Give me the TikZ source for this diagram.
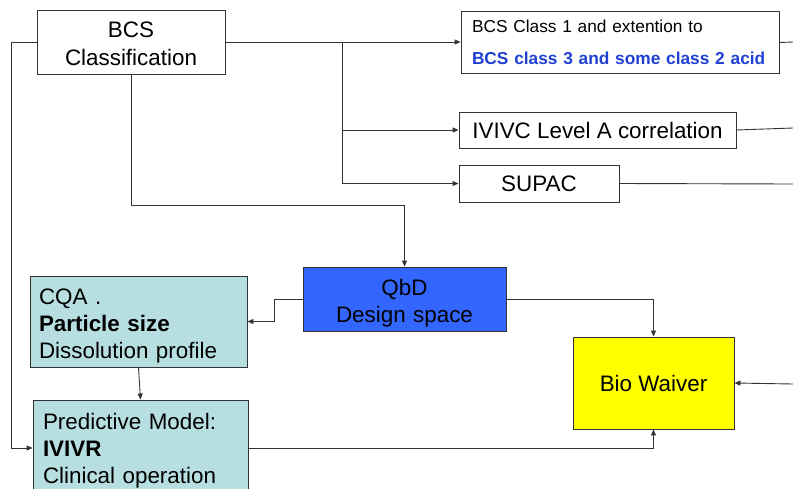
\documentclass[tikz,border=0pt]{standalone}
\usepackage{fontspec}
\setmainfont{Liberation Sans}
\usetikzlibrary{arrows.meta}
\tikzset{every node/.style={font=\fontsize{22.4}{27}\selectfont}}

\begin{document}
\begin{tikzpicture}[x=1pt, y=-1pt, >={Triangle[length=6pt,width=5pt]}]
  % Fixed bounding box (reference size).
  \path[use as bounding box] (0,0) rectangle (793,488);
  \clip (0,0) rectangle (793,488);

  % Colors.
  \definecolor{linecol}{HTML}{333333}
  \definecolor{qbdcol}{HTML}{3366FF}
  \definecolor{cqacol}{HTML}{B7DFE2}
  \definecolor{waivercol}{HTML}{FFFF00}
  \definecolor{extcol}{HTML}{1F40D2}

  \tikzset{
    box/.style={draw=linecol, line width=0.9pt, align=center, inner sep=0pt},
    textbox/.style={box, align=left, inner ysep=0pt},
    lowered/.style={execute at begin node={\rule{0pt}{#1}}},
    lowered/.default=25pt,
    link/.style={draw=linecol, line width=0.9pt},
  }

  % Top row.
  \node[box, lowered=20pt, text width=188pt, minimum height=64,
        font=\fontsize{22.4}{28}\selectfont] (bcs) at (131,42)
    {BCS\\Classification};
  \node[textbox, text width=296pt, inner xsep=11pt, minimum height=62,
        font=\fontsize{17.3}{32}\selectfont] (ext) at (620,42.5)
    {BCS Class 1 and extention to\\
     \textcolor{extcol}{\textbf{BCS class 3 and some class 2 acid}}};
  \node[box, minimum width=277, minimum height=36] (ivivc) at (597.5,130)
    {IVIVC Level A correlation};
  \node[box, minimum width=160, minimum height=37] (supac) at (539,183.5)
    {SUPAC};

  % Middle and bottom.
  \node[box, lowered, fill=qbdcol, text width=203pt, minimum height=64] (qbd) at (404.5,299)
    {QbD\\Design space};
  \node[textbox, lowered, fill=cqacol, text width=199pt, inner xsep=9pt, minimum height=91]
    (cqa) at (138.5,321.5)
    {CQA .\\\textbf{Particle size}\\Dissolution profile};
  \node[textbox, lowered=21pt, fill=cqacol, text width=195pt, inner xsep=10pt, minimum height=96]
    (pred) at (140.5,448)
    {Predictive Model:\\\textbf{IVIVR}\\Clinical operation};
  \node[box, fill=waivercol, minimum width=161, minimum height=92] (bio) at (653.5,383)
    {Bio Waiver};

  % Connectors out of BCS.
  \coordinate (split) at (342,42);
  \draw[link, ->] (bcs.east) -- (ext.west |- bcs.east);
  \draw[link, ->] (split) |- (ivivc.west);
  \draw[link, ->] (split) |- (supac.west);
  \draw[link, ->] (bcs.south) -- ++(0,131) -| (qbd.north);
  \draw[link, ->] (bcs.west) -- (11,42) |- (pred.west);

  % QbD branches.
  \draw[link, ->] (qbd.west) -- ++(-28,0) |- (cqa.east);
  \draw[link, ->] (qbd.east) -| (bio.north);
  \draw[link, ->] (cqa.south) -- (pred.north);
  \draw[link, ->] (pred.east) -| (bio.south);

  % Lines leaving the frame on the right.
  \coordinate (extout) at (793,42);
  \coordinate (ivivcout) at (793,128);
  \coordinate (supacout) at (793,184);
  \coordinate (bioin) at (793,384);
  \draw[link] (ext.east) -- (extout);
  \draw[link] (ivivc.east) -- (ivivcout);
  \draw[link] (supac.east) -- (supacout);
  \draw[link, ->] (bioin) -- (bio.east);
\end{tikzpicture}
\end{document}
